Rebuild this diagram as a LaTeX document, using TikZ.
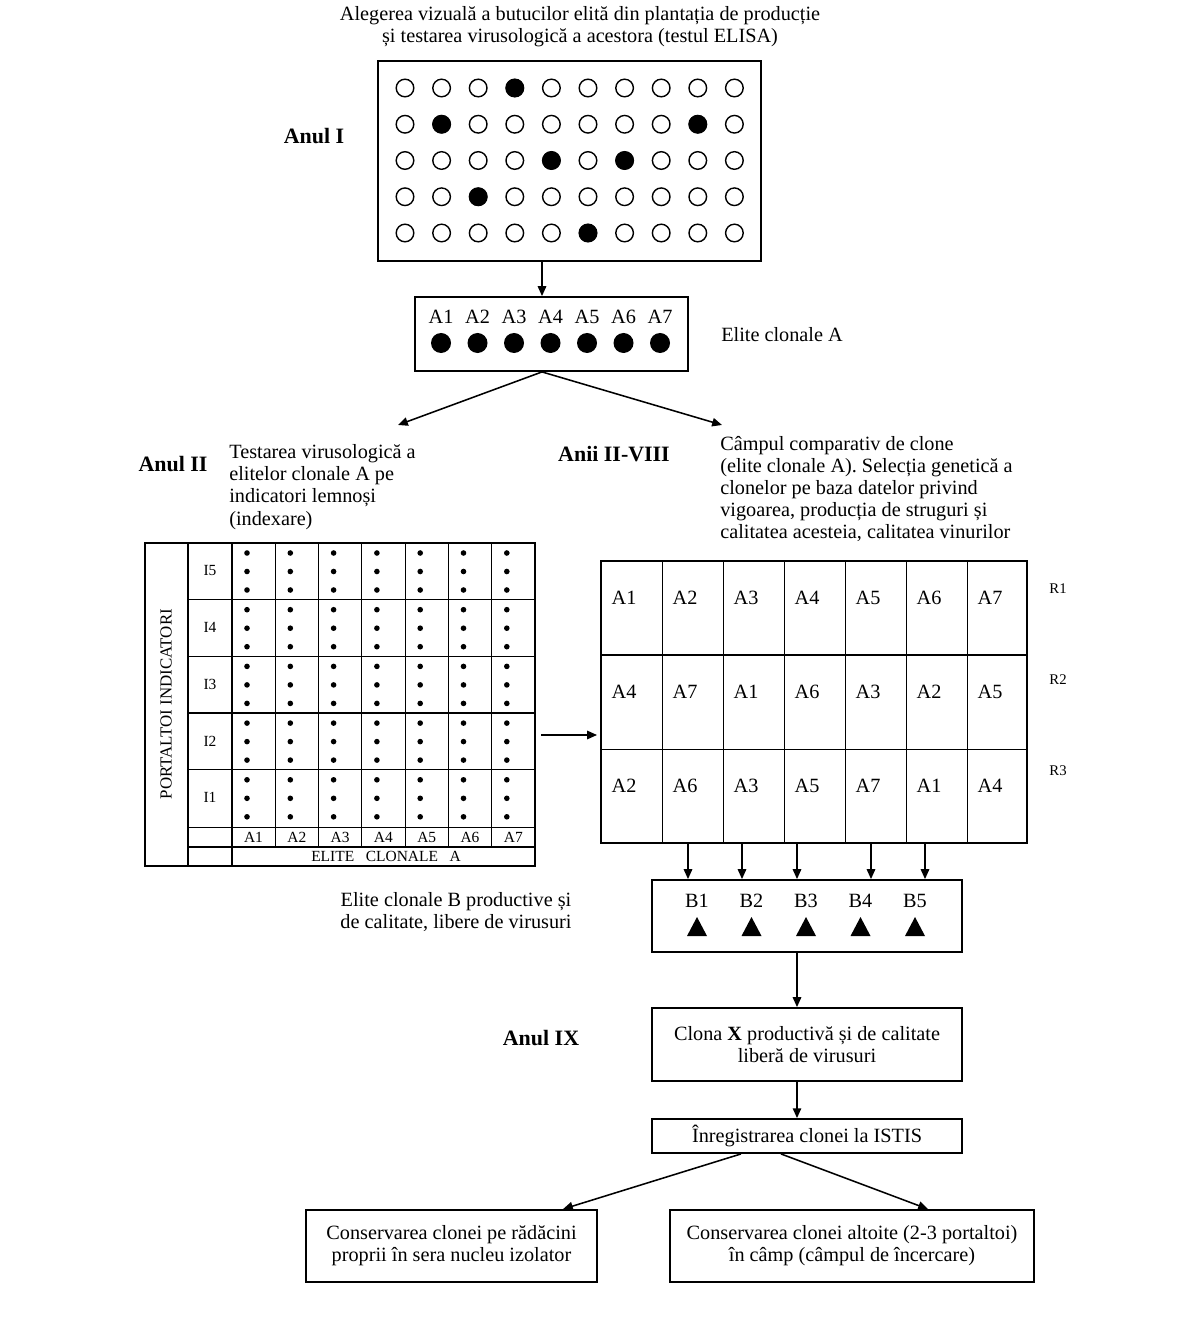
\documentclass[tikz,border=0pt]{standalone}
\usepackage{fontspec}
\setmainfont{Liberation Serif}
\usetikzlibrary{arrows.meta}

\begin{document}
\begin{tikzpicture}[
    x=0.025cm, y=-0.025cm,
    font=\fontsize{14.4pt}{15.8pt}\selectfont,
    box/.style={draw, line width=1.3pt, inner sep=0pt, align=center},
    txt/.style={align=left, inner sep=0pt, anchor=west},
    year/.style={font=\fontsize{15.6pt}{17pt}\selectfont\bfseries, inner sep=0pt},
    small/.style={font=\fontsize{11pt}{13pt}\selectfont, inner sep=0pt},
    lbl/.style={inner sep=0pt, anchor=base},
    cell/.style={line width=0.6pt},
    >={Triangle[length=7pt,width=6pt]}
  ]
  \useasboundingbox (0,0) rectangle (1182,1325);

  % anul I
  \node[align=center, inner sep=0pt] (title) at (580,26.5)
    {Alegerea vizuală a butucilor elită din plantația de producție\\și testarea virusologică a acestora (testul ELISA)};
  \node[box, minimum width=9.575cm, minimum height=5cm] (plant) at (569.5,161) {};
  \foreach \r in {1,...,5}
    \foreach \c in {1,...,10}
      \draw[line width=1pt] ({405+36.6*(\c-1)},{88+36.25*(\r-1)}) circle[radius=0.22cm];
  \foreach \r/\c in {1/4, 2/2, 2/9, 3/5, 3/7, 4/3, 5/6}
    \fill ({405+36.6*(\c-1)},{88+36.25*(\r-1)}) circle[radius=0.23cm];
  \node[year] (an1) at (314,136) {Anul I};

  \node[box, minimum width=6.825cm, minimum height=1.85cm] (elA) at (551.5,334) {};
  \foreach \i in {1,...,7} {
    \node[lbl] (lA\i) at ({441+36.5*(\i-1)},324) {A\i};
    \fill ({441+36.5*(\i-1)},343) circle[radius=0.25cm];
  }
  \node[inner sep=0pt] (elAtxt) at (782,335) {Elite clonale A};
  \draw[->, line width=1.1pt] (542,0 |- plant.south) -- (542,0 |- elA.north);

  % anul II si anii II-VIII
  \coordinate (toIdx) at (398,425);
  \coordinate (toCamp) at (722,425);
  \draw[->, line width=1.1pt] (542,0 |- elA.south) -- (toIdx);
  \draw[->, line width=1.1pt] (542,0 |- elA.south) -- (toCamp);

  \node[year] (an2) at (173,464) {Anul II};
  \node[txt] (idxtxt) at (229,487)
    {Testarea virusologică a\\elitelor clonale A pe\\indicatori lemnoși\\(indexare)};
  \node[year] (an28) at (614,454) {Anii II-VIII};
  \node[txt] (camptxt) at (720,489)
    {Câmpul comparativ de clone\\(elite clonale A). Selecția genetică a\\clonelor pe baza datelor privind\\vigoarea, producția de struguri și\\calitatea acesteia, calitatea vinurilor};

  % indexare
  \node[box, minimum width=9.75cm, minimum height=8.075cm] (idx) at (340,704.5) {};
  \draw[line width=0.9pt] (188,543) -- (188,866);
  \draw[line width=1.2pt] (232,543) -- (232,866);
  \foreach \i in {1,...,6}
    \draw[cell] ({232+43.3*\i},543) -- ({232+43.3*\i},847);
  \foreach \j in {1,2,4}
    \draw[cell] (188,{543+56.7*\j}) -- (535,{543+56.7*\j});
  \draw[line width=1.2pt] (188,713) -- (535,713);
  \draw[cell] (188,827) -- (535,827);
  \draw[line width=1.1pt] (188,847) -- (535,847);
  \foreach \j/\t in {1/I5, 2/I4, 3/I3, 4/I2, 5/I1} {
    \node[small] (lI\j) at (210,{543+56.7*(\j-1)+28}) {\t};
    \foreach \i in {1,...,7}
      \foreach \d in {10,28.5,47}
        \fill ({232+43.3*(\i-1)+15},{543+56.7*(\j-1)+\d}) circle[radius=0.07cm];
  }
  \foreach \i in {1,...,7}
    \node[small, anchor=base] (cA\i) at ({253.5+43.3*(\i-1)},842) {A\i};
  \node[small] (elite) at (386,856.5) {ELITE \ \ CLONALE \ \ A};
  \node[small, font=\fontsize{12pt}{14pt}\selectfont, rotate=90] (port) at (166,704) {PORTALTOI INDICATORI};

  % camp comparativ
  \node[box, minimum width=10.65cm, minimum height=7.05cm] (camp) at (814,702) {};
  \foreach \i in {1,...,6}
    \draw[cell] ({601+61*\i},561) -- ({601+61*\i},843);
  \draw[line width=1.2pt] (601,655) -- (1027,655);
  \draw[cell] (601,749) -- (1027,749);
  \foreach \t [count=\i] in {A1,A2,A3,A4,A5,A6,A7}
    \node[lbl] (r1c\i) at ({624+61*(\i-1)},604) {\t};
  \foreach \t [count=\i] in {A4,A7,A1,A6,A3,A2,A5}
    \node[lbl] (r2c\i) at ({624+61*(\i-1)},698) {\t};
  \foreach \t [count=\i] in {A2,A6,A3,A5,A7,A1,A4}
    \node[lbl] (r3c\i) at ({624+61*(\i-1)},792) {\t};
  \foreach \j/\y in {1/589, 2/680, 3/771}
    \node[small, font=\fontsize{10.5pt}{12pt}\selectfont] (R\j) at (1058,\y) {R\j};
  \draw[->, line width=1.1pt] (541,0 |- 0,735) -- (597,0 |- 0,735);

  % elite B
  \node[box, minimum width=7.75cm, minimum height=1.8cm] (elB) at (807,916) {};
  \foreach \x in {688,742,797,871,925}
    \draw[->, line width=1.1pt] (\x,0 |- camp.south) -- (\x,0 |- elB.north);
  \foreach \i in {1,...,5} {
    \node[lbl] (lB\i) at ({697+54.5*(\i-1)},907) {B\i};
    \fill ({687+54.5*(\i-1)},936) -- ({707+54.5*(\i-1)},936) -- ({697+54.5*(\i-1)},917) -- cycle;
  }
  \node[align=center, inner sep=0pt] (elBtxt) at (456,912)
    {Elite clonale B productive și\\de calitate, libere de virusuri};

  % anul IX
  \node[box, minimum width=7.75cm, minimum height=1.825cm] (clona) at (807,1044.5)
    {Clona \textbf{X} productivă și de calitate\\liberă de virusuri};
  \node[year] (an9) at (541,1038) {Anul IX};
  \draw[->, line width=1.1pt] (797,0 |- elB.south) -- (797,0 |- clona.north);

  \node[box, minimum width=7.75cm, minimum height=0.85cm] (istis) at (807,1136)
    {Înregistrarea clonei la ISTIS};
  \draw[->, line width=1.1pt] (797,0 |- clona.south) -- (797,0 |- istis.north);

  \node[box, minimum width=7.275cm, minimum height=1.8cm] (consl) at (451.5,1246)
    {Conservarea clonei pe rădăcini\\proprii în sera nucleu izolator};
  \node[box, minimum width=9.1cm, minimum height=1.8cm] (consr) at (852,1246)
    {Conservarea clonei altoite (2-3 portaltoi)\\în câmp (câmpul de încercare)};
  \draw[->, line width=1.1pt] (741,0 |- istis.south) -- (563,0 |- consl.north);
  \draw[->, line width=1.1pt] (781,0 |- istis.south) -- (928,0 |- consr.north);
\end{tikzpicture}
\end{document}
